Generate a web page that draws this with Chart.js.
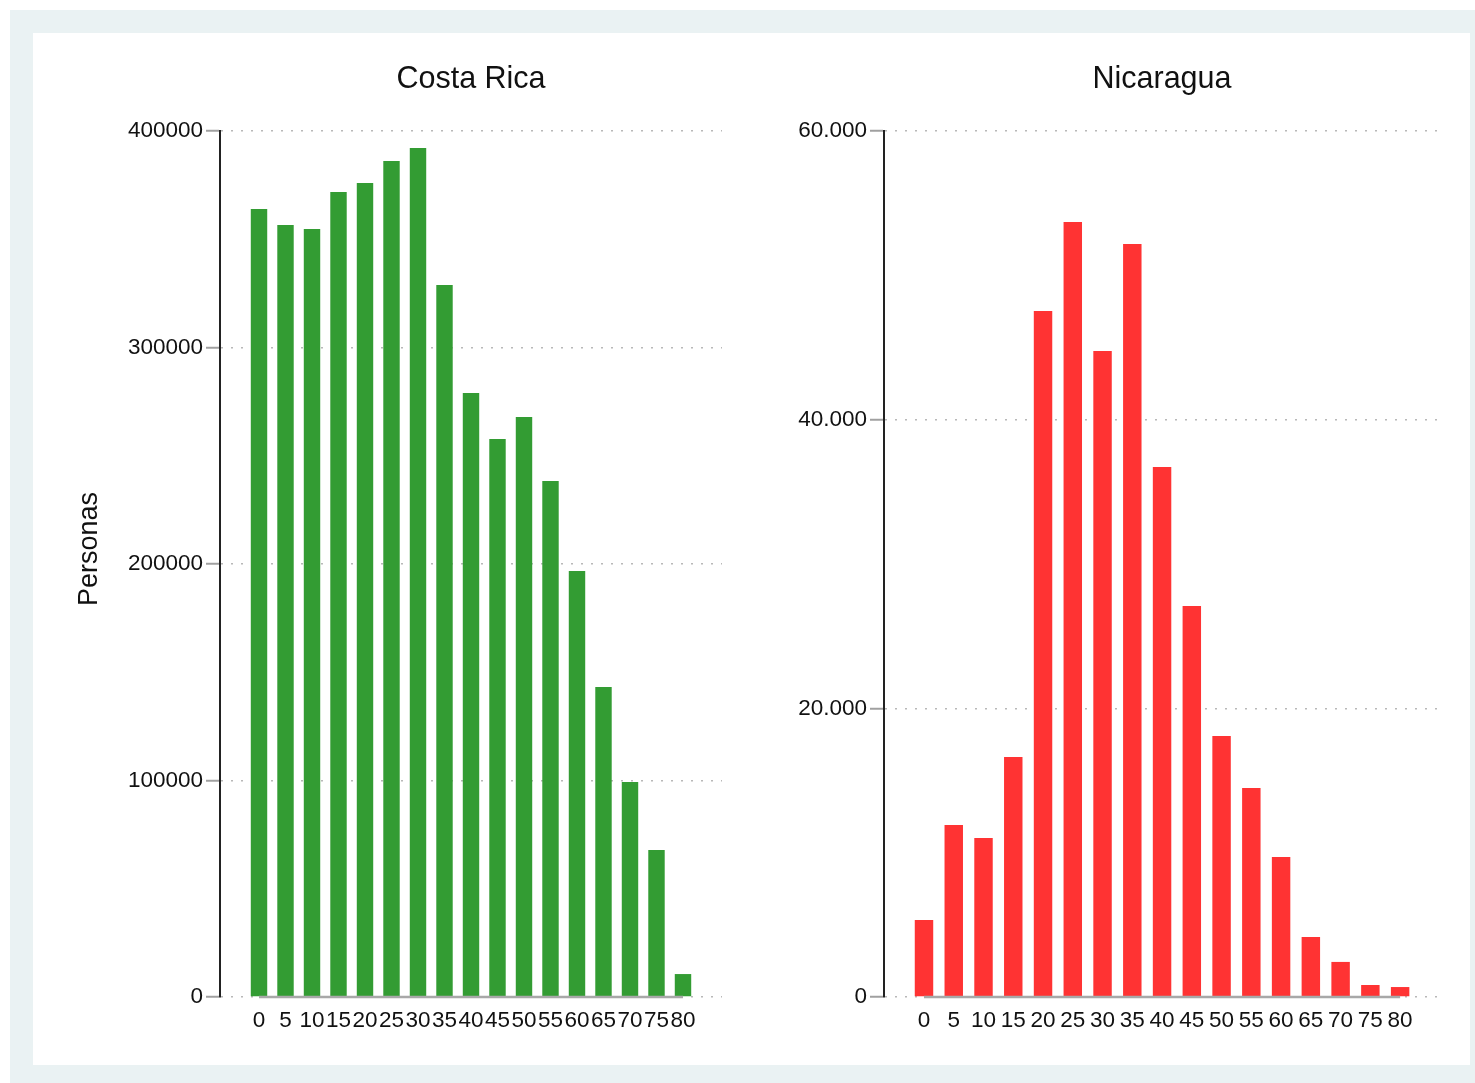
<!DOCTYPE html>
<html>
<head>
<meta charset="utf-8">
<script src="https://cdn.jsdelivr.net/npm/chart.js"></script>
<style>
  body { margin: 0; background: #fff; }
  #frame { position: absolute; left: 10px; top: 10px; width: 1465px; height: 1073px; background: #eaf2f3; }
  #panel { position: absolute; left: 33px; top: 33px; width: 1437px; height: 1032px; background: #fff; }
  #left { position: absolute; left: 0; top: 0; }
  #right { position: absolute; left: 760px; top: 0; }
</style>
</head>
<body>
<div id="frame"></div>
<div id="panel"></div>
<canvas id="left" width="760" height="1083"></canvas>
<canvas id="right" width="715" height="1083"></canvas>
<script>
// edades (grupos quinquenales)
const ages = [0, 5, 10, 15, 20, 25, 30, 35, 40, 45, 50, 55, 60, 65, 70, 75, 80];

const costaRica = [364000, 356600, 354700, 371800, 376000, 386100, 392100, 328900,
  279000, 257700, 267900, 238300, 196800, 143200, 99300, 67900, 10600];

const nicaragua = [5340, 11920, 11020, 16630, 47530, 53700, 44760, 52170,
  36720, 27090, 18080, 14480, 9700, 4160, 2430, 830, 690];

const crTicks = [0, 100000, 200000, 300000, 400000];
const niTicks = [0, 20000, 40000, 60000];

Chart.defaults.font.family = "'Liberation Sans', Arial, sans-serif";
Chart.defaults.color = '#111';

const extras = {
  id: 'extras',
  afterDatasetsDraw(chart, args, o) {
    const ctx = chart.ctx;
    const x = chart.scales.x, y = chart.scales.y;
    // eje x gris de 0 a 80
    ctx.save();
    ctx.strokeStyle = '#a8a8a8';
    ctx.lineWidth = 2.5;
    ctx.beginPath();
    ctx.moveTo(x.getPixelForValue(ages[0]), y.getPixelForValue(0));
    ctx.lineTo(x.getPixelForValue(ages[ages.length - 1]), y.getPixelForValue(0));
    ctx.stroke();
    ctx.restore();
  },
  afterDraw(chart, args, o) {
    const ctx = chart.ctx;
    const a = chart.chartArea;
    ctx.save();
    ctx.fillStyle = '#111';
    ctx.textAlign = 'center';
    ctx.textBaseline = 'middle';
    ctx.font = "30.5px 'Liberation Sans', Arial, sans-serif";
    ctx.fillText(o.title, (a.left + a.right) / 2, 80);
    if (o.yTitle) {
      ctx.translate(90, 549);
      ctx.rotate(-Math.PI / 2);
      ctx.font = "27px 'Liberation Sans', Arial, sans-serif";
      ctx.fillText(o.yTitle, 0, 0);
    }
    ctx.restore();
  }
};

const makeChart = (id, values, color, yTicks, fmt, opts) => {
  return new Chart(document.getElementById(id), {
    type: 'bar',
    data: {
      datasets: [{
        data: ages.map((a, i) => ({ x: a, y: values[i] })),
        backgroundColor: color,
        borderWidth: 0,
        categoryPercentage: 1,
        barPercentage: 0.62
      }]
    },
    options: {
      responsive: false,
      animation: false,
      layout: { padding: { left: 0, right: opts.padRight, top: 131, bottom: 36 } },
      plugins: {
        legend: { display: false },
        tooltip: { enabled: false },
        extras: { title: opts.title, yTitle: opts.yTitle }
      },
      scales: {
        x: {
          type: 'linear',
          min: opts.xmin,
          max: opts.xmax,
          offset: false,
          grid: { display: false, offset: false },
          border: { display: false },
          afterBuildTicks: (s) => { s.ticks = ages.map(v => ({ value: v })); },
          afterFit: (s) => { s.height = 50; },
          ticks: {
            autoSkip: false,
            maxRotation: 0,
            padding: 2,
            font: { size: 22.5 },
            color: '#111'
          }
        },
        y: {
          min: 0,
          max: yTicks[yTicks.length - 1],
          grid: {
            color: '#b8b8b8',
            lineWidth: 1.5,
            tickLength: 14,
            tickColor: '#a0a0a0',
            tickWidth: 2,
            tickBorderDash: []
          },
          border: { display: true, color: '#222', width: 2, dash: [2, 8] },
          afterBuildTicks: (s) => { s.ticks = yTicks.map(v => ({ value: v })); },
          afterFit: (s) => { s.width = opts.yWidth; },
          ticks: {
            padding: 3,
            font: { size: 22.5 },
            color: '#111',
            callback: fmt
          }
        }
      }
    },
    plugins: [extras]
  });
};

makeChart('left', costaRica, '#339c33', crTicks, v => String(v), {
  title: 'Costa Rica', yTitle: 'Personas', xmin: -7.36, xmax: 87.36, padRight: 38, yWidth: 220
});

makeChart('right', nicaragua, '#ff3333', niTicks,
  v => v === 0 ? '0' : String(v).replace(/\B(?=(\d{3})+(?!\d))/g, '.'), {
  title: 'Nicaragua', yTitle: null, xmin: -6.72, xmax: 86.7, padRight: 35, yWidth: 124
});
</script>
</body>
</html>
